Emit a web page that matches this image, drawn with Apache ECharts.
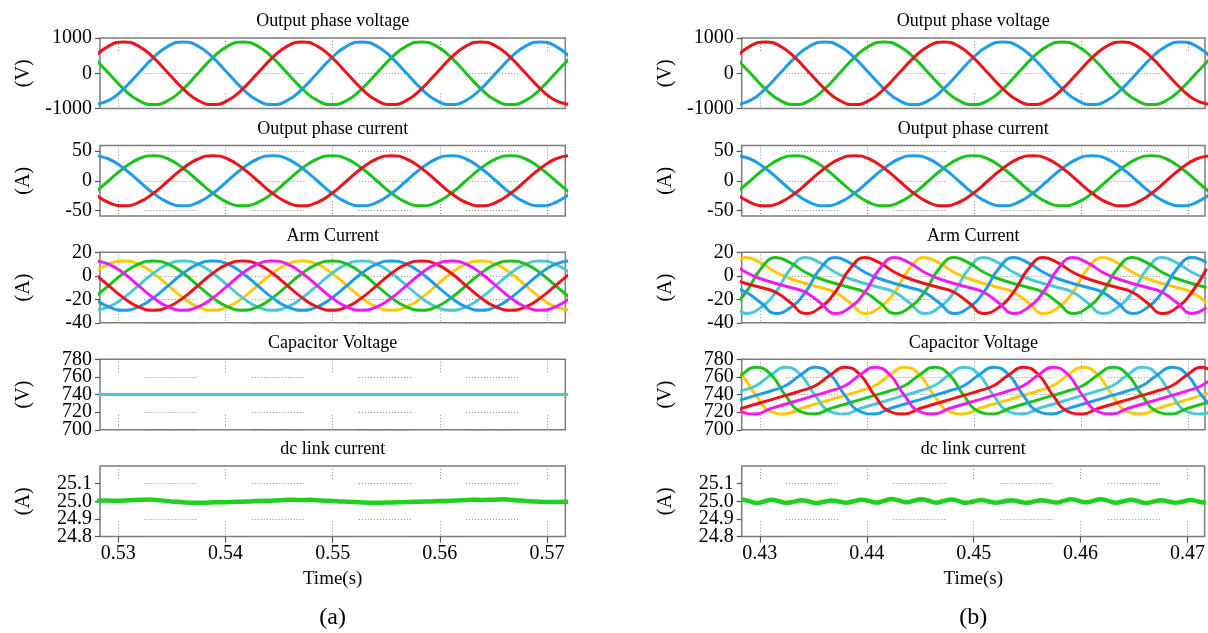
<!DOCTYPE html>
<html>
<head>
<meta charset="utf-8">
<script src="https://cdn.jsdelivr.net/npm/echarts@6/dist/echarts.min.js"></script>
<style>
html, body { margin: 0; padding: 0; background: #fff; }
#chart { width: 1208px; height: 633px; }
</style>
</head>
<body>
<div id="chart"></div>
<script>
// ---------- sample times (s) ----------
const timeA = [0.52772, 0.52911, 0.53050, 0.53189, 0.53328, 0.53467, 0.53606, 0.53744, 0.53883, 0.54022, 0.54161, 0.54300, 0.54439, 0.54578, 0.54717, 0.54856, 0.54994, 0.55133, 0.55272, 0.55411, 0.55550, 0.55689, 0.55828, 0.55967, 0.56106, 0.56244, 0.56383, 0.56522, 0.56661, 0.56800, 0.56939, 0.57078, 0.57217];
const timeB = [0.42772, 0.42911, 0.43050, 0.43189, 0.43328, 0.43467, 0.43606, 0.43744, 0.43883, 0.44022, 0.44161, 0.44300, 0.44439, 0.44578, 0.44717, 0.44856, 0.44994, 0.45133, 0.45272, 0.45411, 0.45550, 0.45689, 0.45828, 0.45967, 0.46106, 0.46244, 0.46383, 0.46522, 0.46661, 0.46800, 0.46939, 0.47078, 0.47217];
const timeArmB = [0.42731, 0.42870, 0.43009, 0.43148, 0.43287, 0.43425, 0.43564, 0.43703, 0.43842, 0.43981, 0.44120, 0.44259, 0.44398, 0.44537, 0.44675, 0.44814, 0.44953, 0.45092, 0.45231, 0.45370, 0.45509, 0.45648, 0.45787, 0.45925, 0.46064, 0.46203, 0.46342, 0.46481, 0.46620, 0.46759, 0.46898, 0.47037, 0.47175];
const timeCapB = [0.42683, 0.42822, 0.42961, 0.43100, 0.43239, 0.43377, 0.43516, 0.43655, 0.43794, 0.43933, 0.44072, 0.44211, 0.44350, 0.44489, 0.44627, 0.44766, 0.44905, 0.45044, 0.45183, 0.45322, 0.45461, 0.45600, 0.45739, 0.45877, 0.46016, 0.46155, 0.46294, 0.46433, 0.46572, 0.46711, 0.46850, 0.46989, 0.47127, 0.47266];
const timeCapA = [0.5280, 0.5720];
const timeDcA = [0.528, 0.529, 0.530, 0.531, 0.532, 0.533, 0.534, 0.535, 0.536, 0.537, 0.538, 0.539, 0.540, 0.541, 0.542, 0.543, 0.544, 0.545, 0.546, 0.547, 0.548, 0.549, 0.550, 0.551, 0.552, 0.553, 0.554, 0.555, 0.556, 0.557, 0.558, 0.559, 0.560, 0.561, 0.562, 0.563, 0.564, 0.565, 0.566, 0.567, 0.568, 0.569, 0.570, 0.571, 0.572];
const timeDcB = [0.4283, 0.4290, 0.4297, 0.4304, 0.4311, 0.4318, 0.4325, 0.4332, 0.4339, 0.4346, 0.4353, 0.4360, 0.4367, 0.4374, 0.4381, 0.4388, 0.4395, 0.4402, 0.4409, 0.4416, 0.4423, 0.4430, 0.4437, 0.4444, 0.4451, 0.4458, 0.4465, 0.4472, 0.4479, 0.4486, 0.4493, 0.4500, 0.4507, 0.4514, 0.4521, 0.4528, 0.4535, 0.4542, 0.4549, 0.4556, 0.4563, 0.4570, 0.4577, 0.4584, 0.4591, 0.4598, 0.4605, 0.4612, 0.4619, 0.4626, 0.4633, 0.4640, 0.4647, 0.4654, 0.4661, 0.4668, 0.4675, 0.4682, 0.4689, 0.4696, 0.4703, 0.4710, 0.4717];

// ---------- tick labels ----------
const timeTicksA = [0.53, 0.54, 0.55, 0.56, 0.57];
const timeTicksB = [0.43, 0.44, 0.45, 0.46, 0.47];
const voltTicks = [-1000, 0, 1000];
const currTicks = [-50, 0, 50];
const armTicks = [-40, -20, 0, 20];
const capTicks = [700, 720, 740, 760, 780];
const dcTicks = [24.8, 24.9, 25.0, 25.1];

// ---------- (a) output phase voltage (V) ----------
const voltA_R = [445,771,890,771,445,0,-445,-771,-890,-771,-445,0,445,771,890,771,445,0,-445,-771,-890,-771,-445,0,445,771,890,771,445,0,-445,-771,-890];
const voltA_G = [445,0,-445,-771,-890,-771,-445,0,445,771,890,771,445,0,-445,-771,-890,-771,-445,0,445,771,890,771,445,0,-445,-771,-890,-771,-445,0,445];
const voltA_B = [-890,-771,-445,0,445,771,890,771,445,0,-445,-771,-890,-771,-445,0,445,771,890,771,445,0,-445,-771,-890,-771,-445,0,445,771,890,771,445];
// ---------- (a) output phase current (A) ----------
const currA_R = [-21,-36.4,-42,-36.4,-21,0,21,36.4,42,36.4,21,0,-21,-36.4,-42,-36.4,-21,0,21,36.4,42,36.4,21,0,-21,-36.4,-42,-36.4,-21,0,21,36.4,42];
const currA_G = [-21,0,21,36.4,42,36.4,21,0,-21,-36.4,-42,-36.4,-21,0,21,36.4,42,36.4,21,0,-21,-36.4,-42,-36.4,-21,0,21,36.4,42,36.4,21,0,-21];
const currA_B = [42,36.4,21,0,-21,-36.4,-42,-36.4,-21,0,21,36.4,42,36.4,21,0,-21,-36.4,-42,-36.4,-21,0,21,36.4,42,36.4,21,0,-21,-36.4,-42,-36.4,-21];
// ---------- (a) arm currents (A) ----------
const armA_M = [12.7,9.9,2.2,-8.3,-18.8,-26.5,-29.3,-26.5,-18.8,-8.3,2.2,9.9,12.7,9.9,2.2,-8.3,-18.8,-26.5,-29.3,-26.5,-18.8,-8.3,2.2,9.9,12.7,9.9,2.2,-8.3,-18.8,-26.5,-29.3,-26.5,-18.8];
const armA_Y = [2.2,9.9,12.7,9.9,2.2,-8.3,-18.8,-26.5,-29.3,-26.5,-18.8,-8.3,2.2,9.9,12.7,9.9,2.2,-8.3,-18.8,-26.5,-29.3,-26.5,-18.8,-8.3,2.2,9.9,12.7,9.9,2.2,-8.3,-18.8,-26.5,-29.3];
const armA_G = [-18.8,-8.3,2.2,9.9,12.7,9.9,2.2,-8.3,-18.8,-26.5,-29.3,-26.5,-18.8,-8.3,2.2,9.9,12.7,9.9,2.2,-8.3,-18.8,-26.5,-29.3,-26.5,-18.8,-8.3,2.2,9.9,12.7,9.9,2.2,-8.3,-18.8];
const armA_C = [-29.3,-26.5,-18.8,-8.3,2.2,9.9,12.7,9.9,2.2,-8.3,-18.8,-26.5,-29.3,-26.5,-18.8,-8.3,2.2,9.9,12.7,9.9,2.2,-8.3,-18.8,-26.5,-29.3,-26.5,-18.8,-8.3,2.2,9.9,12.7,9.9,2.2];
const armA_B = [-18.8,-26.5,-29.3,-26.5,-18.8,-8.3,2.2,9.9,12.7,9.9,2.2,-8.3,-18.8,-26.5,-29.3,-26.5,-18.8,-8.3,2.2,9.9,12.7,9.9,2.2,-8.3,-18.8,-26.5,-29.3,-26.5,-18.8,-8.3,2.2,9.9,12.7];
const armA_R = [2.2,-8.3,-18.8,-26.5,-29.3,-26.5,-18.8,-8.3,2.2,9.9,12.7,9.9,2.2,-8.3,-18.8,-26.5,-29.3,-26.5,-18.8,-8.3,2.2,9.9,12.7,9.9,2.2,-8.3,-18.8,-26.5,-29.3,-26.5,-18.8,-8.3,2.2];
// ---------- (a) capacitor voltages (V) ----------
const capA_R = [740, 740];
const capA_Y = [740, 740];
const capA_G = [740, 740];
const capA_M = [740, 740];
const capA_B = [740, 740];
const capA_C = [740, 740];
// ---------- (a) dc link current (A) ----------
const dcA = [25.003,25.004,25.003,25.006,25.008,25.010,25.005,24.999,24.995,24.991,24.992,24.994,24.995,24.997,24.999,25.002,25.003,25.006,25.009,25.007,25.008,25.004,25.001,24.998,24.996,24.993,24.991,24.993,24.994,24.996,24.997,24.999,25.001,25.003,25.005,25.009,25.007,25.009,25.011,25.006,25.002,24.998,24.996,24.996,24.997];

// ---------- (b) output phase voltage (V) ----------
const voltB_R = [445,771,890,771,445,0,-445,-771,-890,-771,-445,0,445,771,890,771,445,0,-445,-771,-890,-771,-445,0,445,771,890,771,445,0,-445,-771,-890];
const voltB_G = [445,0,-445,-771,-890,-771,-445,0,445,771,890,771,445,0,-445,-771,-890,-771,-445,0,445,771,890,771,445,0,-445,-771,-890,-771,-445,0,445];
const voltB_B = [-890,-771,-445,0,445,771,890,771,445,0,-445,-771,-890,-771,-445,0,445,771,890,771,445,0,-445,-771,-890,-771,-445,0,445,771,890,771,445];
// ---------- (b) output phase current (A) ----------
const currB_R = [-21,-36.4,-42,-36.4,-21,0,21,36.4,42,36.4,21,0,-21,-36.4,-42,-36.4,-21,0,21,36.4,42,36.4,21,0,-21,-36.4,-42,-36.4,-21,0,21,36.4,42];
const currB_G = [-21,0,21,36.4,42,36.4,21,0,-21,-36.4,-42,-36.4,-21,0,21,36.4,42,36.4,21,0,-21,-36.4,-42,-36.4,-21,0,21,36.4,42,36.4,21,0,-21];
const currB_B = [42,36.4,21,0,-21,-36.4,-42,-36.4,-21,0,21,36.4,42,36.4,21,0,-21,-36.4,-42,-36.4,-21,0,21,36.4,42,36.4,21,0,-21,-36.4,-42,-36.4,-21];
// ---------- (b) arm currents (A) ----------
const armB_Y = [6,15.5,11,3,-2.5,-6.5,-10,-14,-23,-32,-27,-14,6,15.5,11,3,-2.5,-6.5,-10,-14,-23,-32,-27,-14,6,15.5,11,3,-2.5,-6.5,-10,-14,-23];
const armB_G = [-27,-14,6,15.5,11,3,-2.5,-6.5,-10,-14,-23,-32,-27,-14,6,15.5,11,3,-2.5,-6.5,-10,-14,-23,-32,-27,-14,6,15.5,11,3,-2.5,-6.5,-10];
const armB_C = [-23,-32,-27,-14,6,15.5,11,3,-2.5,-6.5,-10,-14,-23,-32,-27,-14,6,15.5,11,3,-2.5,-6.5,-10,-14,-23,-32,-27,-14,6,15.5,11,3,-2.5];
const armB_B = [-10,-14,-23,-32,-27,-14,6,15.5,11,3,-2.5,-6.5,-10,-14,-23,-32,-27,-14,6,15.5,11,3,-2.5,-6.5,-10,-14,-23,-32,-27,-14,6,15.5,11];
const armB_R = [-2.5,-6.5,-10,-14,-23,-32,-27,-14,6,15.5,11,3,-2.5,-6.5,-10,-14,-23,-32,-27,-14,6,15.5,11,3,-2.5,-6.5,-10,-14,-23,-32,-27,-14,6];
const armB_M = [11,3,-2.5,-6.5,-10,-14,-23,-32,-27,-14,6,15.5,11,3,-2.5,-6.5,-10,-14,-23,-32,-27,-14,6,15.5,11,3,-2.5,-6.5,-10,-14,-23,-32,-27];
// ---------- (b) capacitor voltages (V) ----------
const capB_Y = [771,763,739,721,718,724,729,734,739,744,750,762,771,763,739,721,718,724,729,734,739,744,750,762,771,763,739,721,718,724,729,734,739,744];
const capB_G = [750,762,771,763,739,721,718,724,729,734,739,744,750,762,771,763,739,721,718,724,729,734,739,744,750,762,771,763,739,721,718,724,729,734];
const capB_C = [739,744,750,762,771,763,739,721,718,724,729,734,739,744,750,762,771,763,739,721,718,724,729,734,739,744,750,762,771,763,739,721,718,724];
const capB_B = [729,734,739,744,750,762,771,763,739,721,718,724,729,734,739,744,750,762,771,763,739,721,718,724,729,734,739,744,750,762,771,763,739,721];
const capB_R = [718,724,729,734,739,744,750,762,771,763,739,721,718,724,729,734,739,744,750,762,771,763,739,721,718,724,729,734,739,744,750,762,771,763];
const capB_M = [739,721,718,724,729,734,739,744,750,762,771,763,739,721,718,724,729,734,739,744,750,762,771,763,739,721,718,724,729,734,739,744,750,762];
// ---------- (b) dc link current (A) ----------
const dcB = [25.010,25.001,24.990,24.999,25.008,25.000,24.991,24.998,25.006,24.999,24.990,24.997,25.004,24.998,24.992,25.000,25.009,25.002,24.993,25.002,25.013,25.004,24.994,25.003,25.012,25.003,24.992,25.001,25.010,25.001,24.991,24.999,25.007,24.999,24.992,24.999,25.006,24.999,24.991,24.998,25.005,25.000,24.993,25.002,25.011,25.003,24.994,25.003,25.012,25.002,24.992,25.000,25.008,25.000,24.990,24.998,25.006,24.999,24.991,24.999,25.007,24.999,24.990];

// ---------- styling ----------
const FONT = '"Liberation Serif", "Times New Roman", serif';
const C = { R: '#e8161b', G: '#1cc21c', B: '#1e9ce8', Y: '#ffc80a', M: '#ee1cee', Cy: '#4ac8d6', DC: '#1fd01f' };
const GRID_COLOR = '#8c8c8c';

const columns = [
  { tag: '(a)', left: 100, width: 465.3, min: 0.5283, max: 0.5717, ticks: timeTicksA },
  { tag: '(b)', left: 741.7, width: 463.3, min: 0.4283, max: 0.4716, ticks: timeTicksB }
];
const rowTops = [38, 145.5, 252.3, 359.3, 466];
const rowHeight = 70.5;

const panelsA = [
  { title: 'Output phase voltage', unit: '(V)', min: -1000, max: 1000, ticks: voltTicks, fmt: v => String(v),
    lines: [[timeA, voltA_G, C.G], [timeA, voltA_B, C.B], [timeA, voltA_R, C.R]] },
  { title: 'Output phase current', unit: '(A)', min: -59, max: 59, ticks: currTicks, fmt: v => String(v),
    lines: [[timeA, currA_G, C.G], [timeA, currA_B, C.B], [timeA, currA_R, C.R]] },
  { title: 'Arm Current', unit: '(A)', min: -40, max: 20, ticks: armTicks, fmt: v => String(v),
    lines: [[timeA, armA_Y, C.Y], [timeA, armA_C, C.Cy], [timeA, armA_G, C.G], [timeA, armA_B, C.B], [timeA, armA_R, C.R], [timeA, armA_M, C.M]] },
  { title: 'Capacitor Voltage', unit: '(V)', min: 700, max: 780, ticks: capTicks, fmt: v => String(v),
    lines: [[timeCapA, capA_R, C.R], [timeCapA, capA_Y, C.Y], [timeCapA, capA_G, C.G], [timeCapA, capA_M, C.M], [timeCapA, capA_B, C.B], [timeCapA, capA_C, C.Cy]] },
  { title: 'dc link current', unit: '(A)', min: 24.8, max: 25.2, ticks: dcTicks, fmt: v => v.toFixed(1), width: 4.5,
    lines: [[timeDcA, dcA, C.DC]] }
];
const panelsB = [
  { title: 'Output phase voltage', unit: '(V)', min: -1000, max: 1000, ticks: voltTicks, fmt: v => String(v),
    lines: [[timeB, voltB_G, C.G], [timeB, voltB_B, C.B], [timeB, voltB_R, C.R]] },
  { title: 'Output phase current', unit: '(A)', min: -59, max: 59, ticks: currTicks, fmt: v => String(v),
    lines: [[timeB, currB_G, C.G], [timeB, currB_B, C.B], [timeB, currB_R, C.R]] },
  { title: 'Arm Current', unit: '(A)', min: -40, max: 20, ticks: armTicks, fmt: v => String(v),
    lines: [[timeArmB, armB_Y, C.Y], [timeArmB, armB_C, C.Cy], [timeArmB, armB_G, C.G], [timeArmB, armB_B, C.B], [timeArmB, armB_R, C.R], [timeArmB, armB_M, C.M]] },
  { title: 'Capacitor Voltage', unit: '(V)', min: 700, max: 780, ticks: capTicks, fmt: v => String(v),
    lines: [[timeCapB, capB_Y, C.Y], [timeCapB, capB_C, C.Cy], [timeCapB, capB_G, C.G], [timeCapB, capB_B, C.B], [timeCapB, capB_R, C.R], [timeCapB, capB_M, C.M]] },
  { title: 'dc link current', unit: '(A)', min: 24.8, max: 25.2, ticks: dcTicks, fmt: v => v.toFixed(1), width: 4.5,
    lines: [[timeDcB, dcB, C.DC]] }
];

// dotted grid: short dotted runs between the time ticks (horizontal) and near the frame (vertical)
function dots(n) { const a = []; for (let i = 0; i < n; i++) a.push(1, 2); return a; }
const hPeriod = 107.2;
const dashH = dots(18); dashH[dashH.length - 1] += hPeriod - 54;
const dashV = dots(5).concat(dots(5)); dashV[9] += rowHeight - 30;

const grids = [], xAxes = [], yAxes = [], series = [], graphics = [], panelList = [];

[panelsA, panelsB].forEach((panels, ci) => {
  const col = columns[ci];
  const cx = col.left + col.width / 2;
  panels.forEach((p, ri) => {
    const gi = grids.length;
    const top = rowTops[ri];
    const bottomRow = ri === panels.length - 1;
    panelList.push({ panel: p, col: col });
    grids.push({ left: col.left, top: top, width: col.width, height: rowHeight, show: true,
      borderColor: '#7c7c7c', borderWidth: 1.5, backgroundColor: '#fff' });
    xAxes.push({
      type: 'value', gridIndex: gi, min: col.min, max: col.max,
      axisLine: { show: false },
      axisTick: { show: bottomRow, customValues: col.ticks, length: 6, lineStyle: { color: '#555', width: 1.2 } },
      axisLabel: { show: bottomRow, customValues: col.ticks, formatter: v => v.toFixed(2), margin: 7,
        showMinLabel: true, showMaxLabel: true,
        fontFamily: FONT, fontSize: 20, color: '#000' },
      splitLine: { show: true, lineStyle: { color: GRID_COLOR, width: 1, type: dashV } }
    });
    yAxes.push({
      type: 'value', gridIndex: gi, min: p.min, max: p.max,
      name: p.unit, nameLocation: 'middle', nameRotate: 90, nameGap: 66,
      nameTextStyle: { fontFamily: FONT, fontSize: 20, color: '#000' },
      axisLine: { show: false },
      axisTick: { show: true, customValues: p.ticks, length: 5, lineStyle: { color: '#555', width: 1.2 } },
      axisLabel: { show: false },
      splitLine: { show: true, lineStyle: { color: GRID_COLOR, width: 1, type: dashH, dashOffset: hPeriod - 44.5 } }
    });
    p.lines.forEach(([t, v, color]) => {
      series.push({
        type: 'line', xAxisIndex: gi, yAxisIndex: gi,
        data: t.map((x, k) => [x, v[k]]),
        smooth: true, showSymbol: false, symbol: 'none', clip: true, silent: true,
        lineStyle: { color: color, width: p.width || 3 }, itemStyle: { color: color }
      });
    });
    graphics.push({ type: 'text', x: cx, y: top - 16.5,
      style: { text: p.title, font: '18px ' + FONT, fill: '#000', align: 'center', verticalAlign: 'middle' } });
  });
  graphics.push({ type: 'text', x: cx, y: 579,
    style: { text: 'Time(s)', font: '19px ' + FONT, fill: '#000', align: 'center', verticalAlign: 'middle' } });
  graphics.push({ type: 'text', x: cx, y: 618,
    style: { text: col.tag, font: '24px ' + FONT, fill: '#000', align: 'center', verticalAlign: 'middle' } });
});

const chart = echarts.init(document.getElementById('chart'), null, { renderer: 'canvas' });
chart.setOption({
  animation: false,
  backgroundColor: '#fff',
  textStyle: { fontFamily: FONT },
  grid: grids, xAxis: xAxes, yAxis: yAxes, series: series, graphic: graphics
});

// value labels beside the y ticks; the ticks are tightly packed, so every label is placed
// at the axis' own pixel position for its value (no automatic overlap thinning)
const yLabels = [];
panelList.forEach(({ panel, col }, gi) => {
  panel.ticks.forEach(v => {
    const pt = chart.convertToPixel({ gridIndex: gi }, [col.min, v]);
    yLabels.push({ type: 'text', x: pt[0] - 8, y: pt[1],
      style: { text: panel.fmt(v), font: '20px ' + FONT, fill: '#000', align: 'right', verticalAlign: 'middle' } });
  });
});
chart.setOption({ graphic: graphics.concat(yLabels) });
</script>
</body>
</html>
